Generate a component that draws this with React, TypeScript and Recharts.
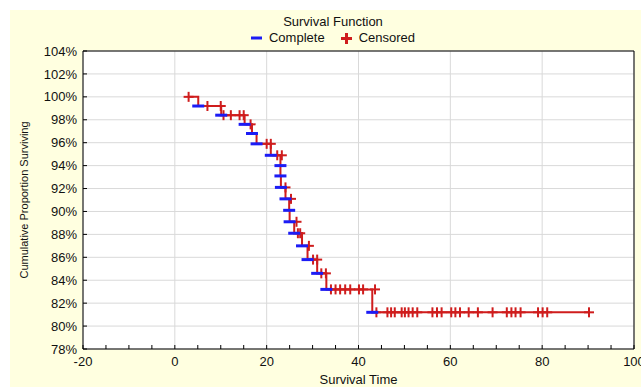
import React from 'react';
import { ComposedChart, Line, Scatter, XAxis, YAxis, CartesianGrid } from 'recharts';

const FONT = '"Liberation Sans", Arial, sans-serif';
const RED = '#cf1d1d';
const BLUE = '#1c1cf5';

// times where an event (complete) happened, and the survival level after it
const eventTimes = [5.1, 10.1, 15.2, 16.8, 17.8, 20.9, 23.0, 23.0, 23.1, 24.1, 24.9, 25.0, 26.0, 27.7, 28.9, 31.0, 33.0, 43.0];
const eventSurvival = [99.2, 98.4, 97.6, 96.8, 95.9, 94.9, 94.0, 93.1, 92.1, 91.1, 90.1, 89.1, 88.1, 87.0, 85.8, 84.6, 83.2, 81.2];

// censored observations
const censoredTimes = [
  3.0, 7.1, 10.0, 10.6, 12.2, 14.1, 15.0, 16.5, 20.0, 20.9, 22.3, 23.3, 24.1, 25.3, 26.5, 26.8, 27.3,
  29.2, 30.1, 31.0, 31.9, 32.9,
  34.0, 35.0, 36.0, 37.1, 38.2, 40.1, 41.0, 43.6,
  43.9, 46.3, 47.1, 47.9, 49.4, 50.1, 50.9, 51.8, 52.8, 56.1, 57.1, 58.1, 60.2, 61.1, 62.1, 64.0, 66.0,
  69.2, 72.3, 73.3, 74.2, 75.3, 79.1, 80.1, 81.1, 90.2,
];
const censoredSurvival = [
  100, 99.2, 99.2, 98.4, 98.4, 98.4, 98.4, 97.6, 95.9, 95.9, 94.9, 94.9, 92.1, 91.1, 89.1, 88.1, 88.1,
  87.0, 85.8, 85.8, 84.6, 84.6,
  83.2, 83.2, 83.2, 83.2, 83.2, 83.2, 83.2, 83.2,
  81.2, 81.2, 81.2, 81.2, 81.2, 81.2, 81.2, 81.2, 81.2, 81.2, 81.2, 81.2, 81.2, 81.2, 81.2, 81.2, 81.2,
  81.2, 81.2, 81.2, 81.2, 81.2, 81.2, 81.2, 81.2, 81.2,
];

const startTime = 3.0;
const endTime = 90.2;

const xTicks = [-20, -15, -10, -5, 0, 5, 10, 15, 20, 25, 30, 35, 40, 45, 50, 55, 60, 65, 70, 75, 80, 85, 90, 95, 100];
const xMajor = [-20, 0, 20, 40, 60, 80, 100];
const yTicks = [78, 80, 82, 84, 86, 88, 90, 92, 94, 96, 98, 100, 102, 104];

const completeData = eventTimes.map((t, i) => ({ t, s: eventSurvival[i] }));
const censoredData = censoredTimes.map((t, i) => ({ t, s: censoredSurvival[i] }));
const curveData = [
  { t: startTime, s: 100 },
  ...completeData,
  { t: endTime, s: eventSurvival[eventSurvival.length - 1] },
];

function PlusMark(props: any) {
  const { cx, cy } = props;
  if (cx == null || cy == null) return null;
  return (
    <g>
      <line x1={cx - 5} x2={cx + 5} y1={cy} y2={cy} stroke={RED} strokeWidth={2} />
      <line x1={cx} x2={cx} y1={cy - 5} y2={cy + 5} stroke={RED} strokeWidth={2} />
    </g>
  );
}

function DashMark(props: any) {
  const { cx, cy } = props;
  if (cx == null || cy == null) return null;
  return <line x1={cx - 6} x2={cx + 6} y1={cy} y2={cy} stroke={BLUE} strokeWidth={3} />;
}

const tickStyle = { fill: '#111', fontSize: 13, fontFamily: FONT };

export default function App() {
  return (
    <div style={{ position: 'absolute', left: 0, top: 0, width: 641, height: 387, background: '#fff', overflow: 'hidden' }}>
      <div style={{ position: 'absolute', left: 10, top: 10, width: 631, height: 377, background: '#ffffe0' }} />

      {/* title + legend */}
      <div style={{ position: 'absolute', left: 0, top: 14, width: 666, textAlign: 'center', fontFamily: FONT, fontSize: 13, color: '#111', lineHeight: '16px' }}>
        <div>Survival Function</div>
        <div style={{ display: 'flex', justifyContent: 'center', alignItems: 'center' }}>
          <svg width={11} height={10} style={{ marginRight: 7 }}>
            <line x1={0} x2={11} y1={5} y2={5} stroke={BLUE} strokeWidth={3} />
          </svg>
          <span>Complete</span>
          <svg width={11} height={11} style={{ marginLeft: 16, marginRight: 7 }}>
            <line x1={0} x2={11} y1={5.5} y2={5.5} stroke={RED} strokeWidth={3} />
            <line x1={5.5} x2={5.5} y1={0} y2={11} stroke={RED} strokeWidth={3} />
          </svg>
          <span>Censored</span>
        </div>
      </div>

      <div style={{ position: 'absolute', left: 0, top: 0 }}>
        <ComposedChart width={641} height={387} margin={{ top: 50, right: 6, bottom: 0, left: 0 }}>
          <CartesianGrid fill="#fff" stroke="#d9d9d9" verticalValues={xMajor} horizontalValues={yTicks} />
          <XAxis
            dataKey="t"
            type="number"
            domain={[-20, 100]}
            ticks={xTicks}
            interval={0}
            allowDataOverflow
            tickFormatter={(v) => (v % 20 === 0 ? String(v) : '')}
            tick={tickStyle}
            tickSize={-4}
            tickMargin={12}
            tickLine={{ stroke: '#000' }}
            axisLine={{ stroke: '#000' }}
            height={38}
            label={{ value: 'Survival Time', position: 'insideBottom', offset: 3, style: { fill: '#111', fontSize: 13, fontFamily: FONT } }}
          />
          <XAxis
            xAxisId="top"
            orientation="top"
            dataKey="t"
            type="number"
            domain={[-20, 100]}
            ticks={xTicks}
            interval={0}
            tickFormatter={() => ''}
            tickSize={-4}
            tickLine={{ stroke: '#000' }}
            axisLine={{ stroke: '#000' }}
            height={1}
          />
          <YAxis
            dataKey="s"
            type="number"
            domain={[78, 104]}
            ticks={yTicks}
            interval={0}
            allowDataOverflow
            tickFormatter={(v) => `${v}%`}
            tick={tickStyle}
            tickSize={-4}
            tickMargin={10}
            tickLine={{ stroke: '#000' }}
            axisLine={{ stroke: '#000' }}
            width={83}
            label={{ value: 'Cumulative Proportion Surviving', angle: -90, position: 'insideLeft', offset: 24, style: { textAnchor: 'middle', fill: '#111', fontSize: 11, fontFamily: FONT } }}
          />
          <YAxis
            yAxisId="right"
            orientation="right"
            type="number"
            domain={[78, 104]}
            ticks={yTicks}
            interval={0}
            tickFormatter={() => ''}
            tickSize={-4}
            tickLine={{ stroke: '#000' }}
            axisLine={{ stroke: '#000' }}
            width={1}
          />
          <Line
            data={curveData}
            dataKey="s"
            type="stepAfter"
            stroke={RED}
            strokeWidth={2}
            dot={false}
            activeDot={false}
            isAnimationActive={false}
          />
          <Scatter name="Censored" data={censoredData} dataKey="s" shape={<PlusMark />} isAnimationActive={false} />
          <Scatter name="Complete" data={completeData} dataKey="s" shape={<DashMark />} isAnimationActive={false} />
        </ComposedChart>
      </div>
    </div>
  );
}
